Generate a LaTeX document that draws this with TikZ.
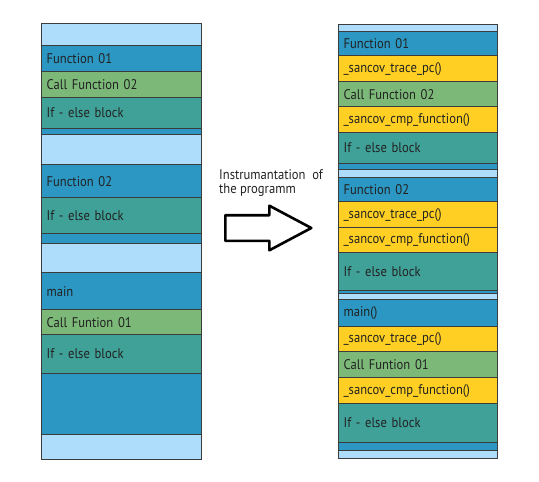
\documentclass[tikz,border=0pt]{standalone}
\usepackage{fontspec}
\setmainfont{PT Sans}[FakeStretch=0.9]
\usetikzlibrary{shapes.arrows}

\definecolor{paleblue}{RGB}{173,221,250}
\definecolor{fnblue}{RGB}{43,151,194}
\definecolor{callgreen}{RGB}{124,185,120}
\definecolor{blockteal}{RGB}{64,161,152}
\definecolor{hookyellow}{RGB}{255,208,35}
\definecolor{edgegray}{RGB}{60,60,60}
\definecolor{textgray}{RGB}{34,34,34}

\tikzset{
  blk/.style={draw=edgegray, line width=1.2pt, fill=#1, anchor=north west,
    inner xsep=5pt, inner ysep=0pt, align=left, text=textgray,
    font=\fontsize{14}{14}\selectfont},
}

\begin{document}
\begin{tikzpicture}[x=1pt,y=-1pt]
    \useasboundingbox (0,0) rectangle (539,482);

    \foreach \n/\t/\h/\c/\s in {la/23/22/paleblue/{}, lb/45/26/fnblue/Function 01,
        lc/71/26/callgreen/Call Function 02, ld/97/31/blockteal/If - else block,
        le/128/6/fnblue/{}, lf/134/30/paleblue/{}, lg/164/33/fnblue/Function 02,
        lh/197/36/blockteal/If - else block, li/233/10/fnblue/{}, lj/243/29/paleblue/{},
        lk/272/37/fnblue/main, ll/309/25/callgreen/Call Funtion 01,
        lm/334/39/blockteal/If - else block, ln/373/61/fnblue/{}, lo/434/25/paleblue/{}}
        \node [blk=\c, text width=150pt, minimum height=\h] (\n) at (41,\t) {\s};

    \foreach \n/\t/\h/\c/\s in {ra/24/7/paleblue/{}, rb/31/24/fnblue/Function 01,
        rc/55/26/hookyellow/\_sancov\_trace\_pc(), rd/81/25/callgreen/Call Function 02,
        re/106/26/hookyellow/\_sancov\_cmp\_function(), rf/132/31/blockteal/If - else block,
        rg/163/6/fnblue/{}, rh/169/8/paleblue/{}, ri/177/24/fnblue/Function 02,
        rj/201/26/hookyellow/\_sancov\_trace\_pc(), rk/227/25/hookyellow/\_sancov\_cmp\_function(),
        rl/252/38/blockteal/If - else block, rm/290/3/fnblue/{}, rn/293/6/paleblue/{},
        ro/299/27/fnblue/main(), rp/326/25/hookyellow/\_sancov\_trace\_pc(),
        rq/351/26/callgreen/Call Funtion 01, rr/377/26/hookyellow/\_sancov\_cmp\_function(),
        rs/403/39/blockteal/If - else block, rt/442/8/fnblue/{}, ru/450/8/paleblue/{}}
        \node [blk=\c, text width=149pt, minimum height=\h] (\n) at (338,\t) {\s};

    \node [anchor=north west, align=left, inner sep=0pt, text=textgray,
        font=\fontsize{14}{14}\selectfont] (lbl) at (219,169) {Instrumantation\ \ of\\the programm};
    \node [single arrow, draw=black, line width=2.6pt, line join=round, fill=white,
        inner xsep=0pt, inner ysep=11.5pt, minimum height=86,
        single arrow head extend=9.5pt, single arrow tip angle=56,
        anchor=tail] (instr) at (224,228) {};
\end{tikzpicture}
\end{document}
